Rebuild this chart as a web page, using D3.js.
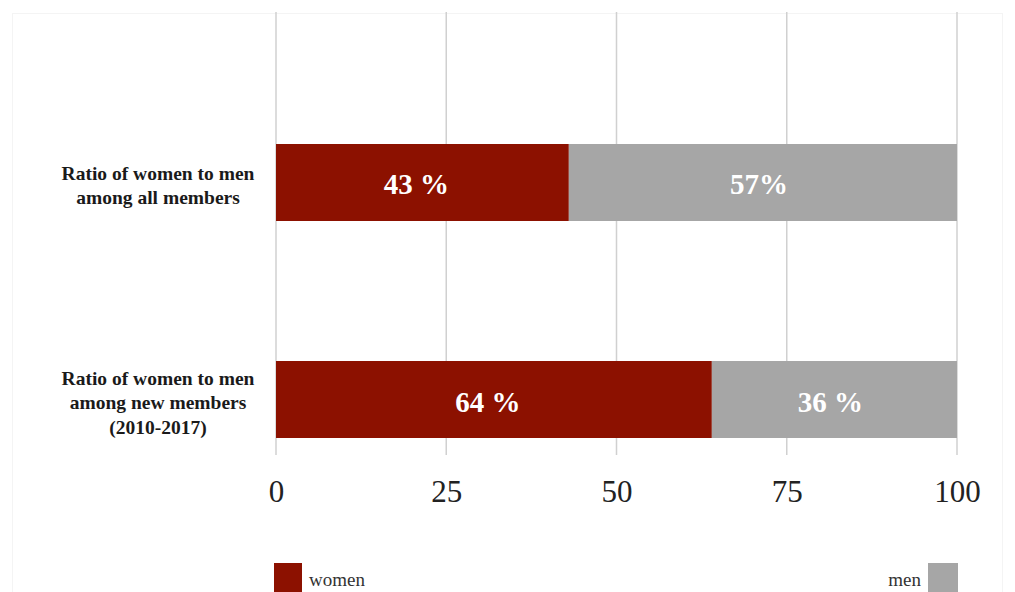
<!DOCTYPE html>
<html><head><meta charset="utf-8">
<script src="https://cdn.jsdelivr.net/npm/d3@7"></script>
<style>body{margin:0;background:#fff}svg{display:block}</style>
</head><body>
<svg id="c" width="1015" height="592"></svg>
<script>
const categories = [
  ["Ratio of women to men", "among all members"],
  ["Ratio of women to men", "among new members", "(2010-2017)"]
];
const women = [43, 64];
const men = [57, 36];
const womenLabels = ["43 %", "64 %"];
const menLabels = ["57%", "36 %"];
const ticks = [0, 25, 50, 75, 100];
const seriesNames = ["women", "men"];
const colors = {women: "#8c1100", men: "#a6a6a6"};

const svg = d3.select("#c");
const font = "'Liberation Serif', 'DejaVu Serif', serif";
const x = d3.scaleLinear().domain([0, 100]).range([276, 957]);
const y = d3.scaleBand().domain(d3.range(categories.length)).range([35.5, 546.5]).paddingInner(0.6452).paddingOuter(0.5);

// faint frame
svg.append("rect").attr("x", 12.5).attr("y", 13.5).attr("width", 990).attr("height", 600)
  .attr("fill", "none").attr("stroke", "#f4f4f4").attr("stroke-width", 1);

// grid
svg.append("g").selectAll("line").data(ticks).join("line")
  .attr("x1", d => x(d)).attr("x2", d => x(d))
  .attr("y1", 12).attr("y2", 455)
  .attr("stroke", "#d0d0d0").attr("stroke-width", 1.5);

// axis
const axis = d3.axisBottom(x).tickValues(ticks).tickSize(0).tickPadding(0);
const ag = svg.append("g").attr("transform", "translate(0,502)").call(axis);
ag.select(".domain").remove();
ag.selectAll("text").attr("font-family", font).attr("font-size", 31).attr("fill", "#222").attr("dy", "0");

// bars
const rows = categories.map((c, i) => ({i, w: women[i], m: men[i]}));
const g = svg.append("g");
g.selectAll("rect.w").data(rows).join("rect").attr("class", "w")
  .attr("x", x(0)).attr("y", d => y(d.i)).attr("width", d => x(d.w) - x(0)).attr("height", y.bandwidth())
  .attr("fill", colors.women);
g.selectAll("rect.m").data(rows).join("rect").attr("class", "m")
  .attr("x", d => x(d.w)).attr("y", d => y(d.i)).attr("width", d => x(d.w + d.m) - x(d.w)).attr("height", y.bandwidth())
  .attr("fill", colors.men);

g.selectAll("text.wl").data(rows).join("text").attr("class", "wl")
  .attr("x", d => x(d.w / 2) - 6).attr("y", d => y(d.i) + y.bandwidth() / 2 + 2)
  .attr("text-anchor", "middle").attr("dominant-baseline", "central")
  .attr("font-family", font).attr("font-weight", "bold").attr("font-size", 29).attr("fill", "#fff")
  .text(d => womenLabels[d.i]);
g.selectAll("text.ml").data(rows).join("text").attr("class", "ml")
  .attr("x", d => x(d.w + d.m / 2) - 4).attr("y", d => y(d.i) + y.bandwidth() / 2 + 2)
  .attr("text-anchor", "middle").attr("dominant-baseline", "central")
  .attr("font-family", font).attr("font-weight", "bold").attr("font-size", 29).attr("fill", "#fff")
  .text(d => menLabels[d.i]);

// category labels
const cl = svg.append("g");
categories.forEach((lines, i) => {
  const cy = y(i) + y.bandwidth() / 2 + 3;
  const lh = 24.5;
  const t = cl.append("text").attr("text-anchor", "middle")
    .attr("font-family", font).attr("font-weight", "bold").attr("font-size", 19.5).attr("fill", "#1a1a1a");
  lines.forEach((ln, j) => {
    t.append("tspan").attr("x", 158).attr("y", cy + (j - (lines.length - 1) / 2) * lh)
      .attr("dominant-baseline", "central").text(ln);
  });
});

// legend
const lg = svg.append("g");
lg.append("rect").attr("x", 274).attr("y", 563).attr("width", 28).attr("height", 30).attr("fill", colors.women);
lg.append("text").attr("x", 309).attr("y", 586).attr("font-family", font).attr("font-size", 19).attr("fill", "#333").text(seriesNames[0]);
lg.append("rect").attr("x", 928).attr("y", 563).attr("width", 30).attr("height", 30).attr("fill", colors.men);
lg.append("text").attr("x", 921).attr("y", 586).attr("text-anchor", "end").attr("font-family", font).attr("font-size", 19).attr("fill", "#333").text(seriesNames[1]);
</script>
</body></html>
